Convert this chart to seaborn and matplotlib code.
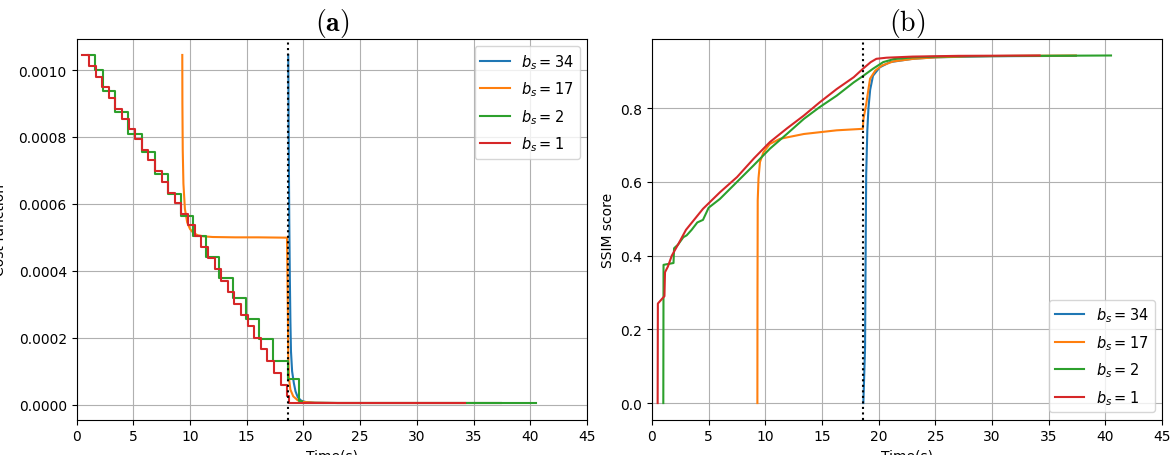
import matplotlib
matplotlib.use("Agg")
import matplotlib.pyplot as plt
import seaborn as sns

# === Daten ===
labels = [r"$b_s = 34$", r"$b_s = 17$", r"$b_s = 2$", r"$b_s = 1$"]
t_switch = 18.64
SCALE = 1e-4  # Kostenwerte unten in Einheiten von 1e-4

# (a) Kostenfunktion
cost_t_34 = [18.66, 18.7, 18.75, 18.8, 18.85, 18.9, 19.0, 19.15, 19.3, 19.5, 19.8, 20.2, 21.0, 23.0, 37.4]
cost_y_34 = [10.45, 8.0, 5.5, 3.8, 2.5, 1.6, 1.0, 0.65, 0.4, 0.22, 0.12, 0.08, 0.06, 0.05, 0.05]

cost_t_17 = [9.32, 9.33, 9.36, 9.42, 9.55, 9.75, 10.0, 10.3, 10.7, 11.2, 12.0, 14.0, 16.0, 18.55,
             18.62, 18.66, 18.72, 18.85, 19.1, 19.5, 20.0, 21.0, 23.0, 37.4]
cost_y_17 = [10.45, 9.0, 7.6, 6.6, 5.85, 5.45, 5.25, 5.13, 5.06, 5.03, 5.01, 5.0, 5.0, 4.99,
             3.0, 1.5, 0.8, 0.45, 0.25, 0.13, 0.08, 0.06, 0.05, 0.05]

# Treppenfunktionen (steps-post)
cost_t_2 = [1.05, 1.6, 2.3, 3.4, 4.55, 5.75, 6.9, 8.1, 9.2, 10.3, 11.45, 12.6, 13.75, 14.9,
            16.1, 17.3, 18.6, 19.6, 19.9, 40.5]
cost_y_2 = [10.45, 10.0, 9.38, 8.74, 8.09, 7.54, 6.89, 6.29, 5.65, 5.05, 4.40, 3.80, 3.18, 2.56,
            1.96, 1.31, 0.77, 0.12, 0.05, 0.05]

cost_t_1 = [0.5, 1.08, 1.67, 2.25, 2.83, 3.42, 4.0, 4.58, 5.17, 5.75, 6.33, 6.92, 7.5, 8.08,
            8.67, 9.25, 9.83, 10.42, 11.0, 11.58, 12.17, 12.75, 13.33, 13.92, 14.5, 15.08,
            15.67, 16.25, 16.83, 17.42, 18.0, 18.58, 18.7, 34.2]
cost_y_1 = [10.45, 10.12, 9.8, 9.48, 9.16, 8.85, 8.54, 8.24, 7.93, 7.62, 7.3, 6.98, 6.66, 6.34,
            6.02, 5.7, 5.38, 5.05, 4.72, 4.38, 4.04, 3.7, 3.36, 3.02, 2.69, 2.35,
            2.0, 1.65, 1.3, 0.95, 0.6, 0.25, 0.06, 0.05]

# (b) SSIM
ssim_t_34 = [18.65, 18.8, 18.85, 18.9, 19.0, 19.1, 19.25, 19.5, 20.1, 21.0, 23.0, 25.0, 30.0, 37.4]
ssim_y_34 = [0.0, 0.15, 0.4, 0.62, 0.74, 0.8, 0.85, 0.888, 0.911, 0.925, 0.934, 0.938, 0.941, 0.942]

ssim_t_17 = [9.3, 9.31, 9.33, 9.4, 9.53, 9.83, 10.4, 11.3, 13.4, 16.3, 18.6, 18.66, 18.9, 19.1,
             19.24, 19.7, 20.3, 21.3, 23.1, 25.1, 28.1, 37.4]
ssim_y_17 = [0.0, 0.3, 0.55, 0.61, 0.654, 0.68, 0.703, 0.717, 0.73, 0.74, 0.744, 0.771, 0.81, 0.852,
             0.88, 0.902, 0.916, 0.927, 0.934, 0.938, 0.941, 0.943]

ssim_t_2 = [1.0, 1.02, 1.9, 1.95, 2.3, 2.77, 3.06, 3.5, 4.0, 4.5, 5.0, 6.0, 7.5, 8.94, 10.4, 11.9,
            13.4, 14.8, 16.3, 17.8, 18.65, 19.5, 20.4, 21.3, 23.0, 27.0, 40.5]
ssim_y_2 = [0.0, 0.375, 0.38, 0.42, 0.43, 0.45, 0.455, 0.47, 0.49, 0.497, 0.53, 0.554, 0.6, 0.644,
            0.69, 0.73, 0.771, 0.803, 0.834, 0.87, 0.888, 0.907, 0.925, 0.933, 0.938, 0.941, 0.943]

ssim_t_1 = [0.5, 0.52, 0.95, 1.1, 1.15, 1.4, 1.75, 2.3, 3.0, 4.5, 6.0, 7.5, 9.0, 10.4, 11.9, 13.4,
            14.8, 16.3, 17.8, 18.65, 19.3, 19.8, 20.7, 23.0, 27.0, 34.2]
ssim_y_1 = [0.0, 0.27, 0.285, 0.29, 0.355, 0.37, 0.40, 0.43, 0.47, 0.527, 0.572, 0.613, 0.664, 0.708,
            0.745, 0.78, 0.816, 0.852, 0.884, 0.908, 0.925, 0.934, 0.937, 0.94, 0.942, 0.943]


def main():
    colors = sns.color_palette("tab10")[:4]
    fig = plt.figure(figsize=(11.76, 4.56), dpi=100)
    ax_a = fig.add_axes([0.0651, 0.0775, 0.4341, 0.835])
    ax_b = fig.add_axes([0.5544, 0.0775, 0.4337, 0.835])
    leg_kw = dict(fontsize=10.5, labelspacing=0.6)

    # === (a) Kostenfunktion ===
    cost_series = [
        (cost_t_34, cost_y_34, "default"),
        (cost_t_17, cost_y_17, "default"),
        (cost_t_2, cost_y_2, "steps-post"),
        (cost_t_1, cost_y_1, "steps-post"),
    ]
    for (t, y, ds), c, lab in zip(cost_series, colors, labels):
        sns.lineplot(x=t, y=[v * SCALE for v in y], ax=ax_a, color=c, label=lab,
                     drawstyle=ds, estimator=None, sort=False, lw=1.5)
    ax_a.axvline(t_switch, color="k", ls=":", lw=1.5)
    ax_a.set_xlim(0, 45)
    ax_a.set_ylim(-0.0000448, 0.001093)
    ax_a.set_xticks(range(0, 46, 5))
    ax_a.set_yticks([0, 0.0002, 0.0004, 0.0006, 0.0008, 0.0010])
    ax_a.set_yticklabels(["0.0000", "0.0002", "0.0004", "0.0006", "0.0008", "0.0010"])
    ax_a.set_xlabel("Time(s)")
    ax_a.set_ylabel("Cost function")
    # Bild ist links beschnitten: Label liegt halb außerhalb
    ax_a.yaxis.set_label_coords(-0.136, 0.5)
    ax_a.set_title(r"$\mathbf{(a)}$", math_fontfamily="cm", fontsize=20, pad=5)
    ax_a.grid(True, color="#b0b0b0", lw=0.8)
    ax_a.legend(loc="upper right", **leg_kw)

    # === (b) SSIM ===
    ssim_series = [
        (ssim_t_34, ssim_y_34),
        (ssim_t_17, ssim_y_17),
        (ssim_t_2, ssim_y_2),
        (ssim_t_1, ssim_y_1),
    ]
    for (t, y), c, lab in zip(ssim_series, colors, labels):
        sns.lineplot(x=t, y=y, ax=ax_b, color=c, label=lab,
                     estimator=None, sort=False, lw=1.5)
    ax_b.axvline(t_switch, color="k", ls=":", lw=1.5)
    ax_b.set_xlim(0, 45)
    ax_b.set_ylim(-0.045, 0.988)
    ax_b.set_xticks(range(0, 46, 5))
    ax_b.set_yticks([0.0, 0.2, 0.4, 0.6, 0.8])
    ax_b.set_xlabel("Time(s)")
    ax_b.set_ylabel("SSIM score")
    ax_b.set_title(r"$\mathrm{(b)}$", math_fontfamily="cm", fontsize=20, pad=5)
    ax_b.grid(True, color="#b0b0b0", lw=0.8)
    ax_b.legend(loc="lower right", **leg_kw)

    fig.savefig("out.png", dpi=100)


if __name__ == "__main__":
    main()
